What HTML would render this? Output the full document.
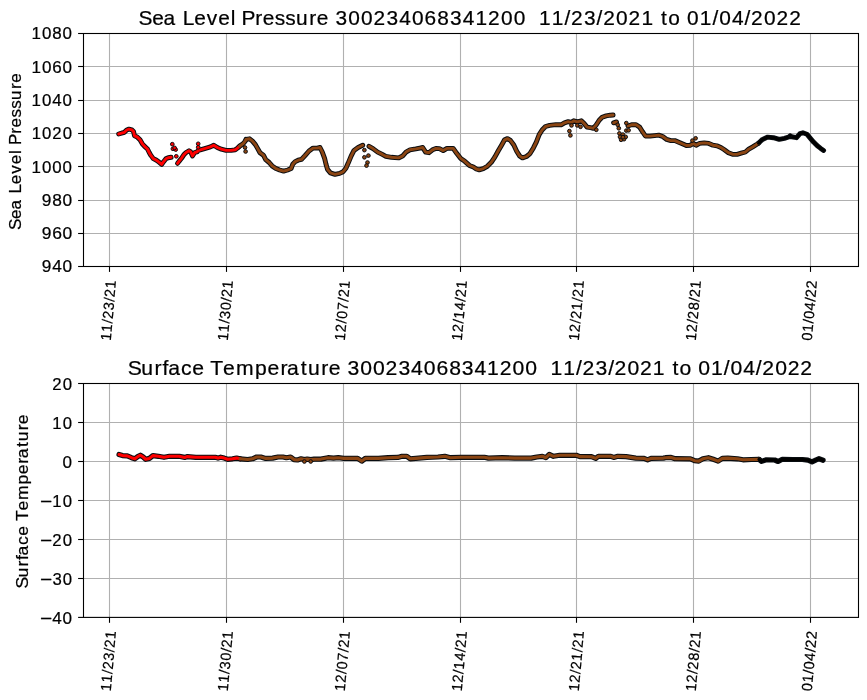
<!DOCTYPE html>
<html lang="en"><head><meta charset="utf-8"><title>Sea Level Pressure / Surface Temperature</title>
<style>html,body{margin:0;padding:0;background:#ffffff;}svg{display:block;will-change:transform;}text{font-family:"Liberation Sans",sans-serif;}</style></head>
<body>
<svg width="867" height="700" viewBox="0 0 867 700">
<rect x="0" y="0" width="867" height="700" fill="#ffffff"/>
<g stroke="#b0b0b0" stroke-width="1.1" fill="none">
<line x1="109.5" y1="33.5" x2="109.5" y2="266.5"/>
<line x1="226.5" y1="33.5" x2="226.5" y2="266.5"/>
<line x1="343.5" y1="33.5" x2="343.5" y2="266.5"/>
<line x1="460.5" y1="33.5" x2="460.5" y2="266.5"/>
<line x1="576.5" y1="33.5" x2="576.5" y2="266.5"/>
<line x1="693.5" y1="33.5" x2="693.5" y2="266.5"/>
<line x1="810.5" y1="33.5" x2="810.5" y2="266.5"/>
<line x1="83.5" y1="66.5" x2="858.5" y2="66.5"/>
<line x1="83.5" y1="100.5" x2="858.5" y2="100.5"/>
<line x1="83.5" y1="133.5" x2="858.5" y2="133.5"/>
<line x1="83.5" y1="166.5" x2="858.5" y2="166.5"/>
<line x1="83.5" y1="200.5" x2="858.5" y2="200.5"/>
<line x1="83.5" y1="233.5" x2="858.5" y2="233.5"/>
</g>
<g fill="none" stroke="#080c10" stroke-width="4.9" stroke-linecap="round" stroke-linejoin="round">
<polyline points="118.7,134.0 121.5,133.2 124.4,132.3 126.7,130.0 129.0,129.1 131.9,129.8 133.6,131.7 134.5,135.8 137.1,136.9 140.0,139.8 142.3,143.8 144.6,146.4 147.5,149.0 149.2,152.5 150.9,155.4 153.3,158.6 156.1,160.0 159.0,162.1 161.7,164.4 163.6,161.7 165.9,158.8 168.2,157.7 171.1,157.3"/>
<polyline points="177.5,163.4 179.2,161.1 181.5,158.3 183.8,154.8 186.1,152.5 189.0,150.8 190.7,151.9 192.5,155.9 194.8,152.5 197.1,151.9 198.2,150.5 201.1,149.6 204.6,148.6 210.4,146.9 213.8,145.2 217.3,147.5 221.3,149.2 226.0,150.4 231.1,150.4 235.2,149.8 237.5,148.1 239.5,146.2"/>
<polyline points="239.5,146.2 243.3,143.5 245.2,141.2 246.1,139.4"/>
<polyline points="246.1,139.4 249.6,138.8 252.5,141.1 255.4,144.6 257.7,148.6 260.0,152.7 263.4,155.2 265.7,159.6 269.2,162.5 272.1,165.9 275.5,168.3 279.6,170.0 283.6,171.1 287.7,170.0 291.1,168.6 292.8,164.2 295.2,161.6 298.1,160.2 301.5,159.4 305.0,155.6 309.0,151.0 313.1,148.1 317.1,148.1 320.0,147.5 322.3,152.1 324.6,158.4 326.0,164.2 327.5,169.4 330.4,172.9 335.0,174.4 339.6,173.4 343.1,171.7 345.9,168.3 348.2,163.1 351.1,156.1 354.0,150.4 358.1,147.5 362.7,145.2"/>
<polyline points="369.0,146.3 373.0,148.6 377.7,152.1 382.3,154.4 385.8,156.3 391.5,157.3 398.5,157.9 402.5,156.1 406.0,152.1 410.0,149.8 415.8,148.9 419.8,148.1 422.7,147.5 425.6,152.1 429.0,152.7 432.5,149.8 435.9,148.4 439.4,148.6 443.2,150.6 446.9,148.4 453.2,148.4 456.7,153.3 460.7,158.4 464.8,161.3 469.4,165.4 473.4,167.0 476.3,169.0 479.2,169.8 483.3,168.6 487.3,166.3 491.3,162.3 494.8,157.1 498.3,150.8 501.7,145.0 504.6,139.8 507.5,138.6 510.4,140.4 513.8,145.0 516.7,151.3 519.6,155.9 522.5,157.9 526.5,156.5 530.0,153.6 533.4,147.9 536.3,142.1 539.2,134.6 542.1,130.0 545.5,126.5 549.6,125.4 555.9,124.6 561.1,124.8 564.5,122.8 568.1,121.7 571.5,122.5 573.8,120.8 577.3,121.9 581.3,120.8 584.2,123.6 587.1,127.1 590.6,127.7 593.4,128.3 596.3,124.8 599.2,120.2 602.1,117.3 606.1,115.9 610.2,115.2 613.1,115.0"/>
<polyline points="613.6,122.8 616.5,121.9"/>
<polyline points="628.0,126.0 631.5,124.8 636.1,124.8 639.6,127.1 642.5,131.7 645.4,136.0 650.0,136.1 654.6,135.6 658.7,135.1 662.7,136.5 666.7,139.4 670.8,140.6 674.8,140.6 678.8,142.3 682.9,144.0 686.3,145.5 690.4,145.2 693.3,143.4 696.1,145.2 699.6,143.4 704.2,142.9 708.8,143.4 712.9,145.2 716.9,145.8 720.9,147.5 724.4,149.8 728.4,152.7 732.5,154.2 737.1,154.4 741.1,153.2 745.4,152.0 748.7,149.2 752.7,146.9 757.3,144.0 758.5,143.2"/>
<polyline points="758.5,143.2 762.5,139.4 767.7,137.1 773.4,137.7 779.2,139.4 784.4,138.3 790.2,136.5 796.5,137.7 800.0,133.6 802.9,132.8 806.9,134.2 810.4,138.3 813.8,142.3 817.3,145.8 820.7,148.4 823.6,150.4"/>
</g>
<g fill="none" stroke="#ff0000" stroke-width="2.9" stroke-linecap="round" stroke-linejoin="round">
<polyline points="118.7,134.0 121.5,133.2 124.4,132.3 126.7,130.0 129.0,129.1 131.9,129.8 133.6,131.7 134.5,135.8 137.1,136.9 140.0,139.8 142.3,143.8 144.6,146.4 147.5,149.0 149.2,152.5 150.9,155.4 153.3,158.6 156.1,160.0 159.0,162.1 161.7,164.4 163.6,161.7 165.9,158.8 168.2,157.7 171.1,157.3"/>
<polyline points="177.5,163.4 179.2,161.1 181.5,158.3 183.8,154.8 186.1,152.5 189.0,150.8 190.7,151.9 192.5,155.9 194.8,152.5 197.1,151.9 198.2,150.5 201.1,149.6 204.6,148.6 210.4,146.9 213.8,145.2 217.3,147.5 221.3,149.2 226.0,150.4 231.1,150.4 235.2,149.8 237.5,148.1 239.5,146.2"/>
</g>
<g fill="none" stroke="#8b4513" stroke-width="2.9" stroke-linecap="round" stroke-linejoin="round">
<polyline points="239.5,146.2 243.3,143.5 245.2,141.2 246.1,139.4"/>
<polyline points="246.1,139.4 249.6,138.8 252.5,141.1 255.4,144.6 257.7,148.6 260.0,152.7 263.4,155.2 265.7,159.6 269.2,162.5 272.1,165.9 275.5,168.3 279.6,170.0 283.6,171.1 287.7,170.0 291.1,168.6 292.8,164.2 295.2,161.6 298.1,160.2 301.5,159.4 305.0,155.6 309.0,151.0 313.1,148.1 317.1,148.1 320.0,147.5 322.3,152.1 324.6,158.4 326.0,164.2 327.5,169.4 330.4,172.9 335.0,174.4 339.6,173.4 343.1,171.7 345.9,168.3 348.2,163.1 351.1,156.1 354.0,150.4 358.1,147.5 362.7,145.2"/>
<polyline points="369.0,146.3 373.0,148.6 377.7,152.1 382.3,154.4 385.8,156.3 391.5,157.3 398.5,157.9 402.5,156.1 406.0,152.1 410.0,149.8 415.8,148.9 419.8,148.1 422.7,147.5 425.6,152.1 429.0,152.7 432.5,149.8 435.9,148.4 439.4,148.6 443.2,150.6 446.9,148.4 453.2,148.4 456.7,153.3 460.7,158.4 464.8,161.3 469.4,165.4 473.4,167.0 476.3,169.0 479.2,169.8 483.3,168.6 487.3,166.3 491.3,162.3 494.8,157.1 498.3,150.8 501.7,145.0 504.6,139.8 507.5,138.6 510.4,140.4 513.8,145.0 516.7,151.3 519.6,155.9 522.5,157.9 526.5,156.5 530.0,153.6 533.4,147.9 536.3,142.1 539.2,134.6 542.1,130.0 545.5,126.5 549.6,125.4 555.9,124.6 561.1,124.8 564.5,122.8 568.1,121.7 571.5,122.5 573.8,120.8 577.3,121.9 581.3,120.8 584.2,123.6 587.1,127.1 590.6,127.7 593.4,128.3 596.3,124.8 599.2,120.2 602.1,117.3 606.1,115.9 610.2,115.2 613.1,115.0"/>
<polyline points="613.6,122.8 616.5,121.9"/>
<polyline points="628.0,126.0 631.5,124.8 636.1,124.8 639.6,127.1 642.5,131.7 645.4,136.0 650.0,136.1 654.6,135.6 658.7,135.1 662.7,136.5 666.7,139.4 670.8,140.6 674.8,140.6 678.8,142.3 682.9,144.0 686.3,145.5 690.4,145.2 693.3,143.4 696.1,145.2 699.6,143.4 704.2,142.9 708.8,143.4 712.9,145.2 716.9,145.8 720.9,147.5 724.4,149.8 728.4,152.7 732.5,154.2 737.1,154.4 741.1,153.2 745.4,152.0 748.7,149.2 752.7,146.9 757.3,144.0 758.5,143.2"/>
</g>
<g fill="none" stroke="#000000" stroke-width="2.9" stroke-linecap="round" stroke-linejoin="round">
<polyline points="758.5,143.2 762.5,139.4 767.7,137.1 773.4,137.7 779.2,139.4 784.4,138.3 790.2,136.5 796.5,137.7 800.0,133.6 802.9,132.8 806.9,134.2 810.4,138.3 813.8,142.3 817.3,145.8 820.7,148.4 823.6,150.4"/>
</g>
<g fill="#ff0000" stroke="#080c10" stroke-width="0.95">
<circle cx="172.3" cy="144.2" r="1.85"/>
<circle cx="172.9" cy="148.8" r="1.85"/>
<circle cx="175.7" cy="149.6" r="1.85"/>
<circle cx="174.6" cy="147.9" r="1.85"/>
<circle cx="176.3" cy="156.3" r="1.85"/>
<circle cx="198.2" cy="143.8" r="1.85"/>
<circle cx="198.2" cy="147.3" r="1.85"/>
</g>
<g fill="#8b4513" stroke="#080c10" stroke-width="0.95">
<circle cx="617.7" cy="124.8" r="1.85"/>
<circle cx="618.8" cy="128.3" r="1.85"/>
<circle cx="245.0" cy="147.5" r="1.85"/>
<circle cx="245.6" cy="151.5" r="1.85"/>
<circle cx="364.4" cy="150.1" r="1.85"/>
<circle cx="364.4" cy="157.3" r="1.85"/>
<circle cx="368.4" cy="155.6" r="1.85"/>
<circle cx="367.5" cy="162.5" r="1.85"/>
<circle cx="366.5" cy="165.6" r="1.85"/>
<circle cx="569.4" cy="131.1" r="1.85"/>
<circle cx="570.4" cy="135.4" r="1.85"/>
<circle cx="571.5" cy="125.4" r="1.85"/>
<circle cx="577.3" cy="125.4" r="1.85"/>
<circle cx="580.5" cy="126.8" r="1.85"/>
<circle cx="596.3" cy="129.8" r="1.85"/>
<circle cx="619.4" cy="133.4" r="1.85"/>
<circle cx="620.0" cy="136.9" r="1.85"/>
<circle cx="621.1" cy="139.8" r="1.85"/>
<circle cx="622.9" cy="134.6" r="1.85"/>
<circle cx="624.0" cy="139.2" r="1.85"/>
<circle cx="625.7" cy="136.9" r="1.85"/>
<circle cx="623.0" cy="137.2" r="1.85"/>
<circle cx="626.3" cy="123.1" r="1.85"/>
<circle cx="626.3" cy="130.6" r="1.85"/>
<circle cx="628.6" cy="130.3" r="1.85"/>
<circle cx="692.4" cy="140.6" r="1.85"/>
<circle cx="695.6" cy="138.3" r="1.85"/>
</g>
<g fill="#000000" stroke="#080c10" stroke-width="0.95">
<circle cx="790.2" cy="135.5" r="1.85"/>
</g>
<g stroke="#000000" stroke-width="1.1" fill="none" stroke-linecap="square">
<rect x="83.5" y="33.5" width="775.0" height="233.0"/>
</g>
<g stroke="#000000" stroke-width="1.1" fill="none">
<line x1="109.5" y1="266.5" x2="109.5" y2="271.9"/>
<line x1="226.5" y1="266.5" x2="226.5" y2="271.9"/>
<line x1="343.5" y1="266.5" x2="343.5" y2="271.9"/>
<line x1="460.5" y1="266.5" x2="460.5" y2="271.9"/>
<line x1="576.5" y1="266.5" x2="576.5" y2="271.9"/>
<line x1="693.5" y1="266.5" x2="693.5" y2="271.9"/>
<line x1="810.5" y1="266.5" x2="810.5" y2="271.9"/>
<line x1="78.1" y1="33.5" x2="83.5" y2="33.5"/>
<line x1="78.1" y1="66.5" x2="83.5" y2="66.5"/>
<line x1="78.1" y1="100.5" x2="83.5" y2="100.5"/>
<line x1="78.1" y1="133.5" x2="83.5" y2="133.5"/>
<line x1="78.1" y1="166.5" x2="83.5" y2="166.5"/>
<line x1="78.1" y1="200.5" x2="83.5" y2="200.5"/>
<line x1="78.1" y1="233.5" x2="83.5" y2="233.5"/>
<line x1="78.1" y1="266.5" x2="83.5" y2="266.5"/>
</g>
<g stroke="#b0b0b0" stroke-width="1.1" fill="none">
<line x1="109.5" y1="383.5" x2="109.5" y2="617.4"/>
<line x1="226.5" y1="383.5" x2="226.5" y2="617.4"/>
<line x1="343.5" y1="383.5" x2="343.5" y2="617.4"/>
<line x1="460.5" y1="383.5" x2="460.5" y2="617.4"/>
<line x1="576.5" y1="383.5" x2="576.5" y2="617.4"/>
<line x1="693.5" y1="383.5" x2="693.5" y2="617.4"/>
<line x1="810.5" y1="383.5" x2="810.5" y2="617.4"/>
<line x1="83.5" y1="422.5" x2="858.5" y2="422.5"/>
<line x1="83.5" y1="461.5" x2="858.5" y2="461.5"/>
<line x1="83.5" y1="500.5" x2="858.5" y2="500.5"/>
<line x1="83.5" y1="539.5" x2="858.5" y2="539.5"/>
<line x1="83.5" y1="578.5" x2="858.5" y2="578.5"/>
</g>
<g fill="none" stroke="#080c10" stroke-width="5.2" stroke-linecap="round" stroke-linejoin="round">
<polyline points="119.0,454.5 122.5,455.6 127.3,455.9 131.5,457.7 134.9,458.8 137.7,456.6 140.4,455.2 143.2,457.0 145.7,459.3 149.4,458.4 152.9,455.6 158.4,456.3 164.0,457.3 169.5,456.3 179.2,456.3 184.7,457.4 187.5,456.6 195.8,457.3 206.9,457.3 215.2,457.3 218.0,458.1 220.7,457.2 224.2,458.1 227.6,459.3 232.5,458.8 236.6,458.1 240.1,458.8"/>
<polyline points="240.1,458.8 247.7,459.5 252.5,458.8 256.7,457.0 260.8,457.0 265.7,458.4 272.6,458.1 278.1,457.0 283.0,457.0 286.4,457.7 290.6,457.0 294.0,459.6 297.5,460.0 301.0,458.8 304.4,459.6 307.2,459.1 310.7,459.6 314.1,459.2 321.0,459.1 328.0,457.7 333.5,458.1 338.3,457.7 343.8,458.4 357.7,458.4 361.8,461.1 365.3,458.4 378.4,458.4 388.1,457.7 397.8,457.4 402.0,456.3 406.8,456.3 410.3,458.8 415.8,458.4 426.9,457.4 438.0,457.0 444.8,456.3 450.4,457.7 460.8,457.3 484.3,457.3 488.4,458.1 502.3,457.7 514.7,458.1 531.3,458.1 536.9,457.0 542.4,456.3 545.9,457.7 549.3,454.4 553.5,456.3 559.7,455.3 576.3,455.3 579.8,456.6 591.5,456.7 595.7,458.4 598.4,456.3 610.9,456.3 613.7,457.4 617.8,456.3 626.1,456.6 635.8,458.1 644.1,458.4 647.6,459.8 651.0,458.4 663.5,458.1 665.5,457.7 671.1,457.4 675.2,458.7 690.4,458.8 694.6,460.7 698.8,461.1 702.9,458.8 708.4,457.7 713.3,459.3 718.1,461.1 722.3,458.4 727.8,458.1 737.5,458.8 743.0,459.8 751.3,459.5 759.0,459.4"/>
<polyline points="759.0,459.4 761.6,461.4 766.4,459.8 774.7,460.0 778.1,461.5 782.3,459.3 792.7,459.5 802.4,459.5 807.9,460.2 812.0,461.8 816.2,459.8 819.0,458.7 823.1,460.2"/>
</g>
<g fill="none" stroke="#ff0000" stroke-width="3.1" stroke-linecap="round" stroke-linejoin="round">
<polyline points="119.0,454.5 122.5,455.6 127.3,455.9 131.5,457.7 134.9,458.8 137.7,456.6 140.4,455.2 143.2,457.0 145.7,459.3 149.4,458.4 152.9,455.6 158.4,456.3 164.0,457.3 169.5,456.3 179.2,456.3 184.7,457.4 187.5,456.6 195.8,457.3 206.9,457.3 215.2,457.3 218.0,458.1 220.7,457.2 224.2,458.1 227.6,459.3 232.5,458.8 236.6,458.1 240.1,458.8"/>
</g>
<g fill="none" stroke="#8b4513" stroke-width="3.1" stroke-linecap="round" stroke-linejoin="round">
<polyline points="240.1,458.8 247.7,459.5 252.5,458.8 256.7,457.0 260.8,457.0 265.7,458.4 272.6,458.1 278.1,457.0 283.0,457.0 286.4,457.7 290.6,457.0 294.0,459.6 297.5,460.0 301.0,458.8 304.4,459.6 307.2,459.1 310.7,459.6 314.1,459.2 321.0,459.1 328.0,457.7 333.5,458.1 338.3,457.7 343.8,458.4 357.7,458.4 361.8,461.1 365.3,458.4 378.4,458.4 388.1,457.7 397.8,457.4 402.0,456.3 406.8,456.3 410.3,458.8 415.8,458.4 426.9,457.4 438.0,457.0 444.8,456.3 450.4,457.7 460.8,457.3 484.3,457.3 488.4,458.1 502.3,457.7 514.7,458.1 531.3,458.1 536.9,457.0 542.4,456.3 545.9,457.7 549.3,454.4 553.5,456.3 559.7,455.3 576.3,455.3 579.8,456.6 591.5,456.7 595.7,458.4 598.4,456.3 610.9,456.3 613.7,457.4 617.8,456.3 626.1,456.6 635.8,458.1 644.1,458.4 647.6,459.8 651.0,458.4 663.5,458.1 665.5,457.7 671.1,457.4 675.2,458.7 690.4,458.8 694.6,460.7 698.8,461.1 702.9,458.8 708.4,457.7 713.3,459.3 718.1,461.1 722.3,458.4 727.8,458.1 737.5,458.8 743.0,459.8 751.3,459.5 759.0,459.4"/>
</g>
<g fill="none" stroke="#000000" stroke-width="3.1" stroke-linecap="round" stroke-linejoin="round">
<polyline points="759.0,459.4 761.6,461.4 766.4,459.8 774.7,460.0 778.1,461.5 782.3,459.3 792.7,459.5 802.4,459.5 807.9,460.2 812.0,461.8 816.2,459.8 819.0,458.7 823.1,460.2"/>
</g>
<g fill="#8b4513" stroke="#080c10" stroke-width="0.95">
<circle cx="304.4" cy="461.5" r="1.85"/>
<circle cx="310.7" cy="461.5" r="1.85"/>
</g>
<g stroke="#000000" stroke-width="1.1" fill="none" stroke-linecap="square">
<rect x="83.5" y="383.5" width="775.0" height="233.9"/>
</g>
<g stroke="#000000" stroke-width="1.1" fill="none">
<line x1="109.5" y1="617.4" x2="109.5" y2="622.8"/>
<line x1="226.5" y1="617.4" x2="226.5" y2="622.8"/>
<line x1="343.5" y1="617.4" x2="343.5" y2="622.8"/>
<line x1="460.5" y1="617.4" x2="460.5" y2="622.8"/>
<line x1="576.5" y1="617.4" x2="576.5" y2="622.8"/>
<line x1="693.5" y1="617.4" x2="693.5" y2="622.8"/>
<line x1="810.5" y1="617.4" x2="810.5" y2="622.8"/>
<line x1="78.1" y1="383.5" x2="83.5" y2="383.5"/>
<line x1="78.1" y1="422.5" x2="83.5" y2="422.5"/>
<line x1="78.1" y1="461.5" x2="83.5" y2="461.5"/>
<line x1="78.1" y1="500.5" x2="83.5" y2="500.5"/>
<line x1="78.1" y1="539.5" x2="83.5" y2="539.5"/>
<line x1="78.1" y1="578.5" x2="83.5" y2="578.5"/>
<line x1="78.1" y1="617.4" x2="83.5" y2="617.4"/>
</g>
<g font-family="'Liberation Sans', sans-serif" fill="#000000" stroke="#000000" stroke-width="0.22" stroke-linejoin="round">
<text transform="translate(140.40,25.10) scale(1.0550,1)" font-size="19.80" x="-1.74 11.14 22.02 34.04 40.23 50.98 62.93 73.85 85.58 90.41 95.86 108.82 116.01 127.42 137.29 147.50 160.02 167.20 178.50 185.06 197.09 209.14 220.95 233.28 245.30 257.36 269.41 281.47 293.54 305.57 317.53 329.43 341.73 353.79 365.33 371.35 377.79 389.84 401.92 408.13 420.46 432.41 438.62 450.92 462.73 474.93 486.57 493.50 500.31 511.61 518.15 530.10 542.18 548.64 560.69 572.67 578.88 591.18 602.99 615.04" y="0.00" xml:space="preserve">Sea Level Pressure 300234068341200  11/23/2021 to 01/04/2022</text>
<text transform="translate(129.60,374.90) scale(1.0686,1)" font-size="19.80" x="-1.81 10.99 23.35 30.90 36.20 48.10 58.68 69.89 75.48 87.50 99.60 117.43 129.02 141.12 147.41 160.20 167.03 179.39 186.44 197.65 204.04 215.89 227.77 239.40 251.55 263.40 275.28 287.16 299.03 310.94 322.79 334.56 346.30 358.42 370.30 381.75 387.68 393.94 405.82 417.76 423.84 435.99 447.81 453.88 466.01 477.64 489.66 501.21 508.00 514.67 525.88 532.25 544.02 555.97 562.29 574.17 586.01 592.09 604.21 615.84 627.72" y="0.00" xml:space="preserve">Surface Temperature 300234068341200  11/23/2021 to 01/04/2022</text>
<text transform="translate(33.02,38.65) scale(1.0210,1)" font-size="16.60" x="-1.40 8.78 18.88 28.97" y="0.00" xml:space="preserve">1080</text>
<text transform="translate(33.02,72.65) scale(1.0271,1)" font-size="16.60" x="-1.42 8.70 18.74 28.77" y="0.00" xml:space="preserve">1060</text>
<text transform="translate(33.02,105.65) scale(1.0184,1)" font-size="16.60" x="-1.39 8.82 18.94 29.06" y="0.00" xml:space="preserve">1040</text>
<text transform="translate(33.02,138.65) scale(1.0089,1)" font-size="16.60" x="-1.36 8.94 18.95 29.38" y="0.00" xml:space="preserve">1020</text>
<text transform="translate(33.02,172.65) scale(1.0183,1)" font-size="16.60" x="-1.39 8.82 18.94 29.07" y="0.00" xml:space="preserve">1000</text>
<text transform="translate(42.57,205.65) scale(1.0437,1)" font-size="16.60" x="-0.71 9.22 19.09" y="0.00" xml:space="preserve">980</text>
<text transform="translate(42.57,238.65) scale(1.0519,1)" font-size="16.60" x="-0.74 9.11 18.91" y="0.00" xml:space="preserve">960</text>
<text transform="translate(42.57,271.65) scale(1.0398,1)" font-size="16.60" x="-0.69 9.27 19.18" y="0.00" xml:space="preserve">940</text>
<text transform="translate(53.04,389.75) scale(1.0108,1)" font-size="16.60" x="-0.91 9.50" y="0.00" xml:space="preserve">20</text>
<text transform="translate(53.64,428.75) scale(1.0070,1)" font-size="16.60" x="-1.35 8.97" y="0.00" xml:space="preserve">10</text>
<text transform="translate(63.24,467.75) scale(1.0289,1)" font-size="16.60" x="-0.65" y="0.00" xml:space="preserve">0</text>
<text transform="translate(53.64,506.75) scale(1.0070,1)" font-size="16.60" xml:space="preserve"><tspan x="-13.48" y="0.63" textLength="12.11" lengthAdjust="spacingAndGlyphs">−</tspan><tspan x="-1.35 8.97" y="0">10</tspan></text>
<text transform="translate(53.04,545.75) scale(1.0108,1)" font-size="16.60" xml:space="preserve"><tspan x="-12.83" y="0.63" textLength="12.06" lengthAdjust="spacingAndGlyphs">−</tspan><tspan x="-0.91 9.50" y="0">20</tspan></text>
<text transform="translate(53.09,584.75) scale(1.0086,1)" font-size="16.60" xml:space="preserve"><tspan x="-12.91" y="0.63" textLength="12.09" lengthAdjust="spacingAndGlyphs">−</tspan><tspan x="-0.71 9.49" y="0">30</tspan></text>
<text transform="translate(52.65,623.65) scale(1.0290,1)" font-size="16.60" xml:space="preserve"><tspan x="-12.23" y="0.63" textLength="11.85" lengthAdjust="spacingAndGlyphs">−</tspan><tspan x="-0.38 9.64" y="0">40</tspan></text>
<text transform="translate(20.80,228.70) rotate(-90) scale(1.0513,1)" font-size="16.20" x="-1.36 9.31 18.35 28.26 33.47 42.39 52.30 61.37 71.07 75.05 79.66 90.38 96.37 105.84 114.03 122.51 132.88 138.87" y="0.00" xml:space="preserve">Sea Level Pressure</text>
<text transform="translate(27.60,586.90) rotate(-90) scale(1.0867,1)" font-size="16.20" x="-1.55 8.75 18.70 24.78 29.00 38.57 47.06 56.15 60.55 70.22 79.90 94.26 103.58 113.33 118.35 128.67 134.12 144.07 149.71" y="0.00" xml:space="preserve">Surface Temperature</text>
<text transform="translate(110.86,339.83) rotate(-85) scale(0.9630,1)" font-size="14.75" x="-1.24 7.73 16.73 21.35 30.53 39.43 44.05 53.14" y="0.00" xml:space="preserve">11/23/21</text>
<text transform="translate(227.86,339.83) rotate(-85) scale(0.9679,1)" font-size="14.75" x="-1.26 7.67 16.63 21.42 30.33 39.22 43.81 52.85" y="0.00" xml:space="preserve">11/30/21</text>
<text transform="translate(344.86,339.83) rotate(-85) scale(0.9714,1)" font-size="14.75" x="-1.27 7.52 16.56 21.31 30.18 39.07 43.63 52.64" y="0.00" xml:space="preserve">12/07/21</text>
<text transform="translate(461.86,339.83) rotate(-85) scale(0.9686,1)" font-size="14.75" x="-1.26 7.55 16.62 21.31 30.31 39.19 43.77 52.80" y="0.00" xml:space="preserve">12/14/21</text>
<text transform="translate(578.86,339.83) rotate(-85) scale(0.9636,1)" font-size="14.75" x="-1.24 7.61 16.72 21.33 30.41 39.40 44.02 53.10" y="0.00" xml:space="preserve">12/21/21</text>
<text transform="translate(695.86,339.83) rotate(-85) scale(0.9710,1)" font-size="14.75" x="-1.27 7.52 16.57 21.14 30.22 39.09 43.65 52.66" y="0.00" xml:space="preserve">12/28/21</text>
<text transform="translate(811.80,340.44) rotate(-85) scale(0.9799,1)" font-size="14.75" x="-0.61 8.13 17.01 21.70 30.52 39.32 43.83 52.65" y="0.00" xml:space="preserve">01/04/22</text>
<text transform="translate(110.86,690.33) rotate(-85) scale(0.9630,1)" font-size="14.75" x="-1.24 7.73 16.73 21.35 30.53 39.43 44.05 53.14" y="0.00" xml:space="preserve">11/23/21</text>
<text transform="translate(227.86,690.33) rotate(-85) scale(0.9679,1)" font-size="14.75" x="-1.26 7.67 16.63 21.42 30.33 39.22 43.81 52.85" y="0.00" xml:space="preserve">11/30/21</text>
<text transform="translate(344.86,690.33) rotate(-85) scale(0.9714,1)" font-size="14.75" x="-1.27 7.52 16.56 21.31 30.18 39.07 43.63 52.64" y="0.00" xml:space="preserve">12/07/21</text>
<text transform="translate(461.86,690.33) rotate(-85) scale(0.9686,1)" font-size="14.75" x="-1.26 7.55 16.62 21.31 30.31 39.19 43.77 52.80" y="0.00" xml:space="preserve">12/14/21</text>
<text transform="translate(578.86,690.33) rotate(-85) scale(0.9636,1)" font-size="14.75" x="-1.24 7.61 16.72 21.33 30.41 39.40 44.02 53.10" y="0.00" xml:space="preserve">12/21/21</text>
<text transform="translate(695.86,690.33) rotate(-85) scale(0.9710,1)" font-size="14.75" x="-1.27 7.52 16.57 21.14 30.22 39.09 43.65 52.66" y="0.00" xml:space="preserve">12/28/21</text>
<text transform="translate(811.80,690.94) rotate(-85) scale(0.9799,1)" font-size="14.75" x="-0.61 8.13 17.01 21.70 30.52 39.32 43.83 52.65" y="0.00" xml:space="preserve">01/04/22</text>
</g>
</svg>
</body></html>
